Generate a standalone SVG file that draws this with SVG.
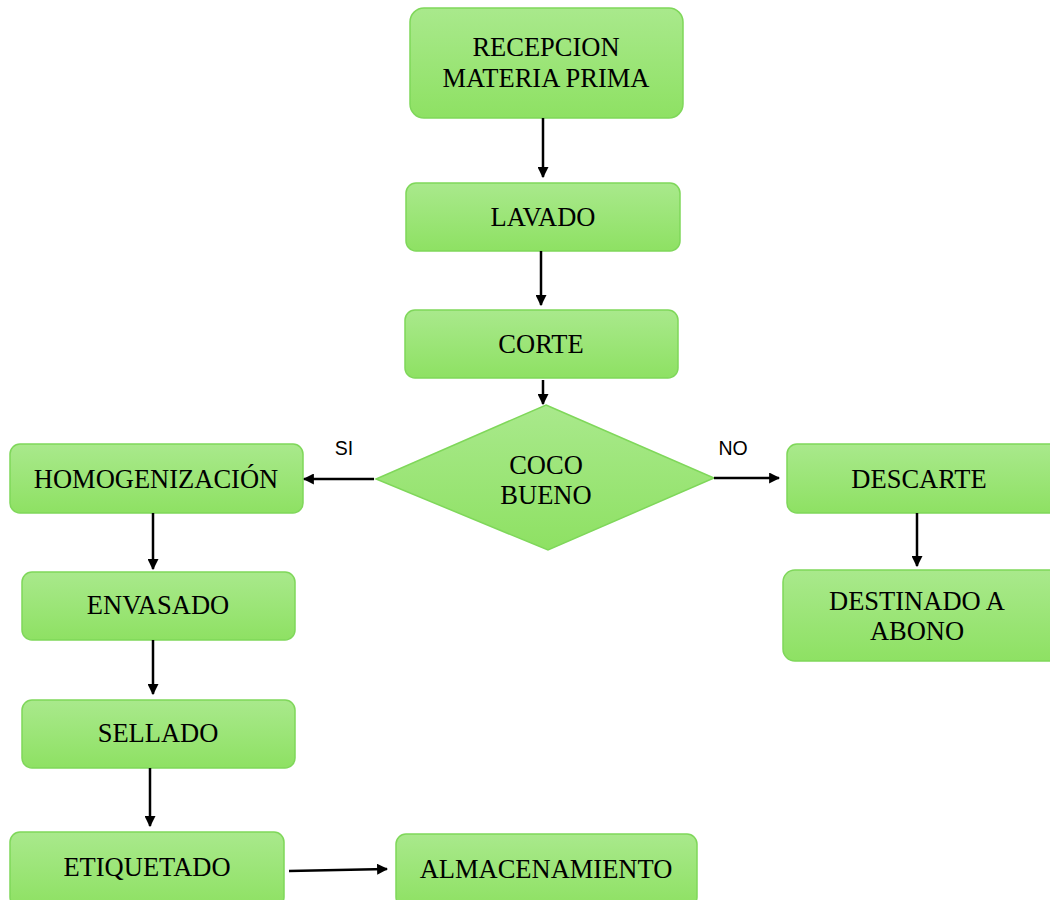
<svg xmlns="http://www.w3.org/2000/svg" width="1050" height="900" viewBox="0 0 1050 900">
<defs>
<linearGradient id="g" x1="0" y1="0" x2="0" y2="1">
<stop offset="0" stop-color="#a9e98c"/>
<stop offset="1" stop-color="#8ee163"/>
</linearGradient>
<marker id="ah" viewBox="0 0 10 10" refX="9" refY="5" markerWidth="11" markerHeight="11" markerUnits="userSpaceOnUse" orient="auto">
<path d="M0,0 L10,5 L0,10 Z" fill="#000"/>
</marker>
<style>
.box{fill:url(#g);stroke:#7fd75a;stroke-width:1.5}
.t{font-family:"Liberation Serif","Times New Roman",serif;font-size:26.5px;fill:#000;text-anchor:middle}
.l{font-family:"Liberation Sans",Arial,sans-serif;font-size:19.5px;fill:#000;text-anchor:middle}
.c{stroke:#000;stroke-width:2.5;fill:none;marker-end:url(#ah)}
</style>
</defs>
<rect width="1050" height="900" fill="#fff"/>
<g id="n-recepcion"><rect class="box" x="410" y="8" width="273" height="110" rx="14"/><text class="t" x="546" y="56">RECEPCION</text><text class="t" x="546" y="87">MATERIA PRIMA</text></g>
<g id="n-lavado"><rect class="box" x="406" y="183" width="274" height="68" rx="10"/><text class="t" x="543" y="226">LAVADO</text></g>
<g id="n-corte"><rect class="box" x="405" y="310" width="273" height="68" rx="10"/><text class="t" x="541" y="353">CORTE</text></g>
<g id="n-coco"><polygon class="box" points="546,405 714,478 548,550 376,479"/><text class="t" x="546" y="474">COCO</text><text class="t" x="546" y="504">BUENO</text></g>
<g id="n-homog"><rect class="box" x="10" y="444" width="293" height="69" rx="10"/><text class="t" x="156" y="488">HOMOGENIZACIÓN</text></g>
<g id="n-descarte"><rect class="box" x="787" y="444" width="275" height="69" rx="10"/><text class="t" x="919" y="488">DESCARTE</text></g>
<g id="n-destinado"><rect class="box" x="783" y="570" width="279" height="91" rx="12"/><text class="t" x="917" y="610">DESTINADO A</text><text class="t" x="917" y="640">ABONO</text></g>
<g id="n-envasado"><rect class="box" x="22" y="572" width="273" height="68" rx="10"/><text class="t" x="158" y="614">ENVASADO</text></g>
<g id="n-sellado"><rect class="box" x="22" y="700" width="273" height="68" rx="10"/><text class="t" x="158" y="742">SELLADO</text></g>
<g id="n-etiquetado"><rect class="box" x="10" y="832" width="274" height="75" rx="10"/><text class="t" x="147" y="876">ETIQUETADO</text></g>
<g id="n-almacen"><rect class="box" x="396" y="834" width="301" height="73" rx="10"/><text class="t" x="546" y="878">ALMACENAMIENTO</text></g>
<g id="connectors">
<line class="c" x1="543" y1="118" x2="543" y2="177"/>
<line class="c" x1="541" y1="251" x2="541" y2="305"/>
<line class="c" x1="543" y1="380" x2="543" y2="404"/>
<line class="c" x1="374" y1="479" x2="304" y2="479"/>
<line class="c" x1="714" y1="478" x2="779" y2="478"/>
<line class="c" x1="917" y1="513" x2="917" y2="566"/>
<line class="c" x1="153" y1="513" x2="153" y2="569"/>
<line class="c" x1="153" y1="640" x2="153" y2="694"/>
<line class="c" x1="150" y1="768" x2="150" y2="826"/>
<line class="c" x1="289" y1="871" x2="387" y2="869"/>
<text class="l" x="344" y="455">SI</text>
<text class="l" x="733" y="455">NO</text>
</g>
</svg>
